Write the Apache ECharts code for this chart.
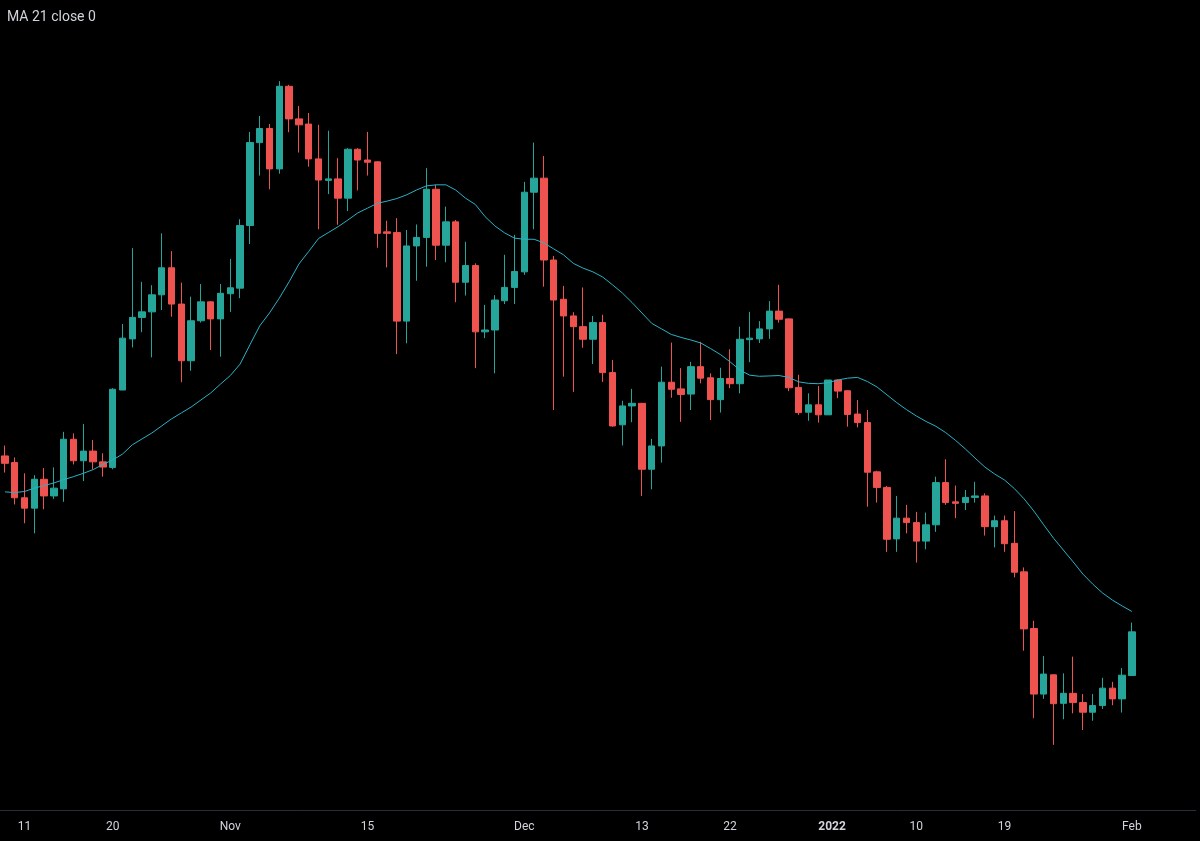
<!DOCTYPE html>
<html>
<head>
<meta charset="utf-8">
<title>MA 21</title>
<script src="https://cdn.jsdelivr.net/npm/echarts@6/dist/echarts.min.js"></script>
<style>
  html, body { margin: 0; padding: 0; background: #000; }
  #chart { width: 1200px; height: 841px; }
</style>
</head>
<body>
<div id="chart"></div>
<script>
// daily candles, 2021-10-09 .. 2022-02-01
const startDate = '2021-10-09';
const futureDays = 6; // empty space right of the last candle

const opens = [
  158.9,157.1,147.6,144.8,152.6,148.1,150.0,163.4,157.6,160.2,
  157.3,155.8,176.7,190.5,196.3,197.8,202.4,209.7,199.9,184.6,
  195.4,200.5,195.9,202.7,204.2,221.1,243.5,247.3,236.4,258.7,
  249.9,248.5,239.1,233.3,233.7,228.5,241.7,238.8,238.3,219.4,
  219.2,195.3,215.6,217.9,230.9,215.8,222.1,205.8,210.3,192.4,
  192.9,200.8,204.4,208.6,230.1,233.9,211.8,201.2,196.7,193.8,
  190.4,194.9,181.4,167.3,172.4,173.1,155.3,161.6,178.8,177.0,
  175.6,183.0,180.0,174.1,179.8,178.4,190.3,190.5,193.2,198.0,
  195.9,177.4,170.7,172.7,170.0,179.4,176.5,170.2,167.9,154.6,
  150.4,136.5,142.1,140.9,135.9,140.3,151.7,146.5,146.3,147.7,
  148.1,139.8,141.4,135.3,127.6,112.3,94.6,99.8,92.1,94.8,
  92.3,89.7,91.5,96.2,93.3,99.6
];
const highs = [
  161.7,158.5,154.2,153.7,155.6,155.8,165.4,165.0,167.5,163.2,
  159.6,177.2,194.5,215.0,205.9,205.0,219.0,214.2,205.7,201.9,
  205.3,200.7,205.3,212.1,222.8,246.4,250.7,248.5,260.1,259.1,
  253.4,251.5,248.3,246.7,239.3,242.0,242.0,246.4,238.5,222.4,
  223.1,219.9,221.4,236.6,232.1,226.2,222.6,216.7,210.9,199.7,
  202.3,213.2,218.6,232.9,243.5,239.9,212.9,204.8,197.7,204.4,
  196.7,197.0,184.8,173.8,177.0,173.2,163.5,183.0,189.5,182.6,
  184.3,189.7,181.2,182.7,187.7,193.8,197.8,195.3,200.7,205.1,
  196.0,180.8,175.8,177.8,179.4,179.6,176.6,174.0,171.3,154.9,
  150.8,148.1,145.7,143.8,143.6,153.3,158.0,150.9,149.7,151.9,
  148.8,142.8,142.8,144.0,128.8,114.4,104.9,99.9,100.2,104.7,
  94.6,94.6,99.0,97.9,101.6,113.9
];
const lows = [
  154.4,145.8,140.7,138.0,144.5,147.3,146.5,156.6,152.1,155.3,
  153.3,155.3,176.7,188.2,192.3,185.5,198.3,196.5,178.8,181.9,
  194.9,187.5,185.7,197.8,201.5,216.1,234.6,230.9,235.1,246.3,
  240.8,237.0,220.1,229.6,221.3,225.0,230.6,234.6,215.1,209.8,
  186.4,189.3,206.2,210.0,211.8,211.2,200.4,202.2,182.6,190.7,
  181.2,199.9,199.9,207.8,220.1,204.6,171.3,180.3,176.2,188.1,
  183.7,178.9,166.8,161.7,168.0,148.1,149.9,157.1,174.6,168.1,
  171.3,178.5,168.6,170.6,177.2,175.8,184.2,189.4,190.5,194.9,
  176.4,170.0,168.4,167.9,170.0,174.5,166.8,166.6,145.2,146.3,
  133.0,133.0,138.0,130.1,133.7,138.4,145.7,142.1,144.3,146.3,
  137.4,134.2,133.0,126.1,106.3,88.1,93.3,80.9,87.8,89.4,
  84.9,87.4,90.6,91.6,89.6,99.6
];
const closes = [
  156.9,147.6,144.8,152.6,148.1,150.2,163.4,157.6,160.2,157.3,
  155.9,176.9,190.7,196.3,197.8,202.4,209.7,199.9,184.6,195.4,
  200.5,195.9,202.8,204.3,221.1,243.5,247.3,236.4,258.7,249.9,
  248.3,239.1,233.4,233.7,228.5,241.7,238.8,238.2,219.0,219.0,
  195.3,215.6,217.9,230.9,215.8,222.1,205.8,210.3,192.4,192.9,
  201.0,204.4,208.7,230.1,233.9,211.8,201.0,196.7,193.8,190.4,
  194.9,181.4,167.0,172.4,173.1,155.3,161.6,178.8,176.9,175.5,
  183.0,179.9,174.1,179.8,178.4,190.4,190.7,193.2,198.0,195.8,
  177.3,170.6,172.7,170.0,179.4,176.4,170.1,167.9,154.5,150.4,
  136.4,142.1,140.9,135.9,140.3,151.7,146.3,146.1,147.7,148.1,
  139.8,141.4,135.2,127.5,112.2,94.6,100.0,92.0,94.8,92.3,
  89.7,91.5,96.2,93.3,99.7,111.4
];
// MA 21 (close)
const ma21 = [
  149.2,149.0,149.3,150.2,150.9,151.6,152.5,153.3,154.2,155.2,
  156.6,157.8,159.4,161.9,163.5,165.1,167.0,168.9,170.5,172.1,
  174.0,175.9,178.3,180.6,183.7,188.9,194.0,197.5,201.5,205.9,
  210.7,214.1,217.6,219.2,220.8,222.6,224.5,225.8,227.1,227.7,
  228.4,229.4,230.7,231.8,232.1,232.1,230.7,228.5,226.8,223.5,
  221.0,219.1,217.7,217.4,217.4,216.4,214.8,213.2,210.9,209.6,
  208.6,207.2,205.1,202.9,200.3,197.5,194.7,193.2,191.7,190.9,
  190.2,189.4,187.9,186.3,184.3,182.1,180.7,180.4,180.5,180.6,
  180.1,178.9,178.5,178.4,178.7,179.4,179.9,180.1,179.0,177.5,
  175.4,173.3,171.4,169.7,168.2,166.9,165.2,163.1,160.8,158.3,
  155.9,154.0,152.4,150.1,147.3,144.0,140.3,136.7,133.5,130.3,
  127.0,124.3,121.9,120.0,118.4,116.9
];

const tickLabels = {
  '2021-10-11': '11', '2021-10-20': '20', '2021-11-01': 'Nov',
  '2021-11-15': '15', '2021-12-01': 'Dec', '2021-12-13': '13',
  '2021-12-22': '22', '2022-01-01': '2022', '2022-01-10': '10',
  '2022-01-19': '19', '2022-02-01': 'Feb'
};

const UP = '#26a69a', DOWN = '#ef5350';

// category dates: one per day
const dates = [];
const t0 = Date.parse(startDate + 'T00:00:00Z');
for (let i = 0; i < opens.length + futureDays; i++) {
  dates.push(new Date(t0 + i * 86400000).toISOString().slice(0, 10));
}

const candles = dates.map((d, i) =>
  i < opens.length ? [opens[i], closes[i], lows[i], highs[i]] : '-');
const maLine = dates.map((d, i) => i < ma21.length ? ma21[i] : '-');

const chart = echarts.init(document.getElementById('chart'));
chart.setOption({
  backgroundColor: '#000000',
  animation: false,
  textStyle: { fontFamily: 'Roboto, "Noto Sans", sans-serif' },
  grid: { left: 0, right: 4.4, top: 0, bottom: 31 },
  graphic: [{
    type: 'text', left: 7, top: 10,
    style: { text: 'MA 21 close 0', fill: '#d1d4dc', fontSize: 14,
             fontFamily: 'Roboto, "Noto Sans", sans-serif' }
  }],
  xAxis: {
    type: 'category',
    data: dates,
    boundaryGap: true,
    axisLine: { show: true, lineStyle: { color: '#2a2e39', width: 1 } },
    axisTick: { show: false },
    splitLine: { show: false },
    axisLabel: {
      color: '#d1d4dc',
      fontSize: 12,
      margin: 11,
      interval: (idx, value) => tickLabels[value] !== undefined,
      formatter: value => value === '2022-01-01'
        ? '{y|' + tickLabels[value] + '}' : (tickLabels[value] || ''),
      rich: { y: { fontWeight: 'bold', fontSize: 12, color: '#d1d4dc', padding: [0, 0, 0, 8] } }
    }
  },
  yAxis: {
    type: 'value',
    min: 63.3,
    max: 282,
    show: false,
    splitLine: { show: false }
  },
  series: [
    {
      name: 'candles',
      type: 'candlestick',
      data: candles,
      barWidth: 7,
      itemStyle: {
        color: UP, color0: DOWN,
        borderColor: UP, borderColor0: DOWN,
        borderWidth: 1
      }
    },
    {
      name: 'MA 21',
      type: 'line',
      data: maLine,
      showSymbol: false,
      smooth: false,
      lineStyle: { color: '#2ab2c6', width: 1 },
      z: 3
    }
  ]
});
</script>
</body>
</html>
